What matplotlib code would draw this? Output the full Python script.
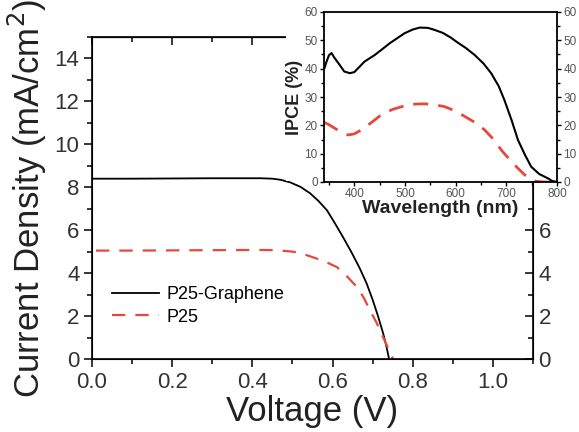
import numpy as np
import matplotlib
matplotlib.use('Agg')
import matplotlib.pyplot as plt
from matplotlib.patches import Rectangle
from matplotlib.ticker import MultipleLocator, FixedLocator

plt.rcParams['font.family'] = ['Liberation Sans', 'DejaVu Sans']

# J-V data
v_g = [0.0, 0.1, 0.2, 0.3, 0.42, 0.45, 0.47, 0.494, 0.52, 0.544, 0.565, 0.586, 0.606, 0.626,
       0.647, 0.668, 0.685, 0.70, 0.713, 0.726, 0.734, 0.741]
j_g = [8.40, 8.40, 8.41, 8.42, 8.42, 8.40, 8.35, 8.23, 8.02, 7.72, 7.36, 6.93, 6.32, 5.68,
       4.98, 4.22, 3.52, 2.76, 2.02, 1.21, 0.62, 0.0]
v_p = [0.01, 0.1, 0.2, 0.3, 0.42, 0.46, 0.501, 0.525, 0.551, 0.58, 0.611, 0.636, 0.661, 0.678,
       0.693, 0.71, 0.726, 0.74, 0.751]
j_p = [5.05, 5.05, 5.06, 5.07, 5.08, 5.07, 5.00, 4.90, 4.74, 4.55, 4.28, 3.85, 3.35, 2.85,
       2.28, 1.68, 1.02, 0.45, 0.0]

# IPCE data
wl_g = [341, 345, 350, 355, 360, 371, 380, 391, 400, 420, 440, 453, 470, 499, 515, 529, 545,
        558, 575, 590, 604, 620, 637, 655, 670, 685, 696, 710, 723, 737, 749, 765, 782, 790, 801]
ipce_g = [40.2, 42.5, 44.8, 45.5, 44.0, 41.3, 39.0, 38.4, 38.8, 42.5, 44.8, 46.6, 49.0, 52.5,
          53.8, 54.5, 54.4, 53.7, 52.6, 51.0, 49.2, 47.3, 44.9, 41.8, 38.4, 33.8, 29.0, 22.0,
          14.8, 9.5, 5.4, 2.8, 1.3, 0.4, 0.0]
wl_p = [341, 350, 361, 375, 388, 400, 414, 430, 453, 475, 499, 520, 539, 560, 578, 600, 624,
        640, 657, 675, 690, 705, 723, 737, 749, 760, 775, 800]
ipce_p = [21.0, 20.2, 19.0, 17.5, 16.6, 17.0, 18.4, 20.5, 23.7, 25.6, 26.9, 27.5, 27.6, 27.2,
          26.6, 25.0, 22.5, 20.8, 18.4, 15.0, 11.3, 8.2, 4.8, 2.4, 0.7, 0.2, 0.0, 0.0]

red = '#e8483b'
W, H = 579, 432
fig = plt.figure(figsize=(W / 100, H / 100), dpi=100)

# main axes
ax = fig.add_axes([92 / W, 1 - 359 / H, 441 / W, 322 / H])
ax.set_zorder(0)
ax.plot(v_g, j_g, color='black', lw=1.3, label='P25-Graphene')
ax.plot(v_p, j_p, color=red, lw=1.6, dashes=(6, 4.5), label='P25')
ax.set_xlim(0, 1.1)
ax.set_ylim(0, 15)
ax.xaxis.set_major_locator(MultipleLocator(0.2))
ax.xaxis.set_minor_locator(MultipleLocator(0.1))
ax.yaxis.set_major_locator(MultipleLocator(2))
ax.yaxis.set_minor_locator(MultipleLocator(1))
ax.set_xticks([0, 0.2, 0.4, 0.6, 0.8, 1.0])
ax.set_xticklabels(['0.0', '0.2', '0.4', '0.6', '0.8', '1.0'])
ax.tick_params(which='both', direction='out', width=1.1, labelsize=16, labelcolor='#333333', pad=3)
ax.tick_params(which='major', length=6)
ax.tick_params(which='minor', length=3.5)
for s in ax.spines.values():
    s.set_linewidth(1.2)
ax.set_xlabel('Voltage (V)', fontsize=25, color='#222222', labelpad=2)
ax.set_ylabel('Current Density (mA/cm$^2$)', fontsize=25, color='#222222', labelpad=4)
ax.legend(loc='center left', bbox_to_anchor=(0.045, 0.165), frameon=False, fontsize=13,
          handlelength=2.6, handletextpad=0.45, labelspacing=0.3, borderpad=0, borderaxespad=0)

# right side ticks
ax2 = ax.twinx()
ax2.set_zorder(0.5)
ax2.set_ylim(0, 15)
ax2.yaxis.set_major_locator(FixedLocator([0, 2, 4, 6]))
ax2.yaxis.set_minor_locator(FixedLocator([1, 3, 5, 7]))
ax2.tick_params(which='both', direction='in', width=1.1, labelsize=16, labelcolor='#333333', pad=4)
ax2.tick_params(which='major', length=6)
ax2.tick_params(which='minor', length=3.5)

# top ticks
top = ax.secondary_xaxis('top')
top.xaxis.set_major_locator(MultipleLocator(0.2))
top.xaxis.set_minor_locator(MultipleLocator(0.1))
top.tick_params(which='both', direction='in', width=1.1, labeltop=False)
top.tick_params(which='major', length=6)
top.tick_params(which='minor', length=3.5)

# white background behind inset
fig.add_artist(Rectangle((286 / W, 1 - 181 / H), 1, 181 / H, transform=fig.transFigure,
                         facecolor='white', edgecolor='none', zorder=1))

# inset
ins = fig.add_axes([324 / W, 1 - 182 / H, 233 / W, 170 / H])
ins.set_zorder(2)
ins.plot(wl_g, ipce_g, color='black', lw=1.5)
ins.plot(wl_p, ipce_p, color=red, lw=2.0, dashes=(5.4, 3.6))
ins.set_xlim(340, 800)
ins.set_ylim(0, 60)
ins.xaxis.set_major_locator(MultipleLocator(100))
ins.xaxis.set_minor_locator(MultipleLocator(50))
ins.yaxis.set_major_locator(MultipleLocator(10))
ins.yaxis.set_minor_locator(MultipleLocator(5))
ins.tick_params(which='both', direction='out', width=1.0, labelsize=8.5, labelcolor='#555555',
                pad=1.5, right=True, labelright=True)
ins.tick_params(which='major', length=3)
ins.tick_params(which='minor', length=2)
for s in ins.spines.values():
    s.set_linewidth(1.3)
ins.set_xlabel('Wavelength (nm)', fontsize=14, fontweight='bold', color='#222222', labelpad=0)
ins.set_ylabel('IPCE (%)', fontsize=13, fontweight='bold', color='#222222', labelpad=1)

fig.savefig('out.png', dpi=100)
